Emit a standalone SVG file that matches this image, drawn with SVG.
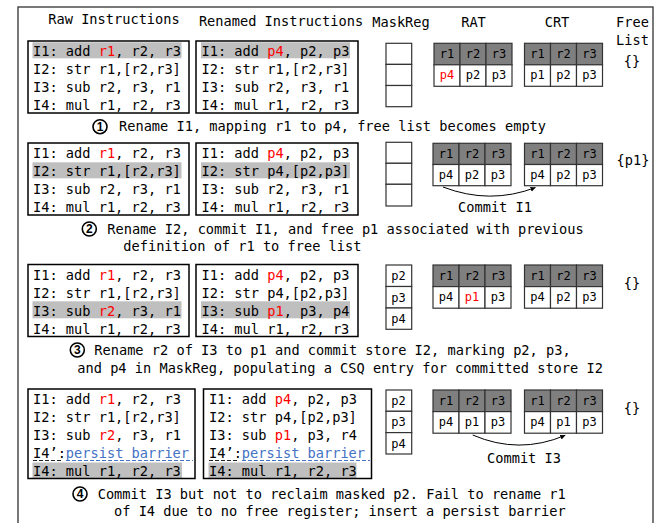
<svg xmlns="http://www.w3.org/2000/svg" width="672" height="523" viewBox="0 0 672 523">
<defs>
<style>
.t{font-family:"DejaVu Sans Mono","Liberation Mono",monospace;font-size:13.65px;fill:#000}
.s{font-family:"DejaVu Sans Mono","Liberation Mono",monospace;font-size:12px;fill:#000;text-anchor:middle}
.c{text-anchor:middle}
.r{fill:#ff0000}
.b{fill:#4472c4}
.hl{fill:#bfbfbf}
.box{fill:none;stroke:#000;stroke-width:1.5}
.cell{fill:#fff;stroke:#333;stroke-width:1.2}
.hdr{fill:#7f7f7f;stroke:#333;stroke-width:1.2}
.num{font-family:"Liberation Sans","DejaVu Sans",sans-serif;font-size:12px;font-weight:bold;text-anchor:middle;fill:#000}
.circ{fill:#fff;stroke:#000;stroke-width:1.6}
.arc{fill:none;stroke:#000;stroke-width:1}
</style>
<marker id="ah" markerWidth="6" markerHeight="6" refX="5" refY="3" orient="auto" markerUnits="userSpaceOnUse">
<path d="M0,0.5 L5,3 L0,5.5 Z" fill="#000"/>
</marker>
</defs>
<rect x="0" y="0" width="672" height="523" fill="#fff"/>
<rect id="frame" x="18" y="7" width="635" height="530" fill="none" stroke="#404040" stroke-width="1.4"/>

<g id="headers">
<text class="t c" x="114" y="23.5">Raw Instructions</text>
<text class="t c" x="281" y="25.7">Renamed Instructions</text>
<text class="t c" x="401" y="26.5">MaskReg</text>
<text class="t c" x="473.5" y="26.5">RAT</text>
<text class="t c" x="557" y="26.5">CRT</text>
<text class="t c" x="632.5" y="26.5">Free</text>
<text class="t c" x="632.5" y="45">List</text>
</g>

<!-- Block 1 -->
<g id="raw1">
<rect class="hl" x="32.5" y="42.3" width="149" height="16"/>
<rect class="box" x="28" y="41" width="161" height="72"/>
<text class="t" x="33" y="56">I1: add <tspan class="r">r1</tspan>, r2, r3</text>
<text class="t" x="33" y="74">I2: str r1,[r2,r3]</text>
<text class="t" x="33" y="92">I3: sub r2, r3, r1</text>
<text class="t" x="33" y="110">I4: mul r1, r2, r3</text>
</g>
<g id="ren1">
<rect class="hl" x="201" y="42.3" width="149" height="16"/>
<rect class="box" x="196" y="41" width="162" height="72"/>
<text class="t" x="201.5" y="56">I1: add <tspan class="r">p4</tspan>, p2, p3</text>
<text class="t" x="201.5" y="74">I2: str r1,[r2,r3]</text>
<text class="t" x="201.5" y="92">I3: sub r2, r3, r1</text>
<text class="t" x="201.5" y="110">I4: mul r1, r2, r3</text>
</g>
<g id="mask1">
<rect class="cell" x="386" y="43.3" width="25.7" height="21.1"/>
<rect class="cell" x="386" y="64.4" width="25.7" height="21.1"/>
<rect class="cell" x="386" y="85.5" width="25.7" height="21.2"/>
</g>
<g id="rat1">
<rect class="hdr" x="434" y="43.3" width="26" height="21.5"/>
<rect class="hdr" x="460" y="43.3" width="26" height="21.5"/>
<rect class="hdr" x="486" y="43.3" width="26" height="21.5"/>
<rect class="cell" x="434" y="64.8" width="26" height="21.5"/>
<rect class="cell" x="460" y="64.8" width="26" height="21.5"/>
<rect class="cell" x="486" y="64.8" width="26" height="21.5"/>
<text class="s" x="447" y="58.3">r1</text><text class="s" x="473" y="58.3">r2</text><text class="s" x="499" y="58.3">r3</text>
<text class="s r" x="447" y="79.3">p4</text><text class="s" x="473" y="79.3">p2</text><text class="s" x="499" y="79.3">p3</text>
</g>
<g id="crt1">
<rect class="hdr" x="524.5" y="43.3" width="26" height="21.5"/>
<rect class="hdr" x="550.5" y="43.3" width="26" height="21.5"/>
<rect class="hdr" x="576.5" y="43.3" width="26" height="21.5"/>
<rect class="cell" x="524.5" y="64.8" width="26" height="21.5"/>
<rect class="cell" x="550.5" y="64.8" width="26" height="21.5"/>
<rect class="cell" x="576.5" y="64.8" width="26" height="21.5"/>
<text class="s" x="537.5" y="58.3">r1</text><text class="s" x="563.5" y="58.3">r2</text><text class="s" x="589.5" y="58.3">r3</text>
<text class="s" x="537.5" y="79.3">p1</text><text class="s" x="563.5" y="79.3">p2</text><text class="s" x="589.5" y="79.3">p3</text>
</g>
<g id="free1"><text class="t c" x="632" y="65.5">{}</text></g>
<g id="cap1">
<circle class="circ" cx="100" cy="126.7" r="7"/>
<text class="num" x="100" y="131">1</text>
<text class="t" x="119" y="131">Rename I1, mapping r1 to p4, free list becomes empty</text>
</g>

<!-- Block 2 -->
<g id="raw2">
<rect class="hl" x="32.5" y="162.3" width="149" height="16"/>
<rect class="box" x="28" y="143" width="161" height="72"/>
<text class="t" x="33" y="158">I1: add <tspan class="r">r1</tspan>, r2, r3</text>
<text class="t" x="33" y="176">I2: str r1,[r2,r3]</text>
<text class="t" x="33" y="194">I3: sub r2, r3, r1</text>
<text class="t" x="33" y="212">I4: mul r1, r2, r3</text>
</g>
<g id="ren2">
<rect class="hl" x="201" y="162.3" width="149" height="16"/>
<rect class="box" x="196" y="143" width="162" height="72"/>
<text class="t" x="201.5" y="158">I1: add <tspan class="r">p4</tspan>, p2, p3</text>
<text class="t" x="201.5" y="176">I2: str p4,[p2,p3]</text>
<text class="t" x="201.5" y="194">I3: sub r2, r3, r1</text>
<text class="t" x="201.5" y="212">I4: mul r1, r2, r3</text>
</g>
<g id="mask2">
<rect class="cell" x="386" y="142.3" width="25.7" height="21"/>
<rect class="cell" x="386" y="163.3" width="25.7" height="21"/>
<rect class="cell" x="386" y="184.3" width="25.7" height="21.7"/>
</g>
<g id="rat2">
<rect class="hdr" x="433" y="143.3" width="26" height="21.2"/>
<rect class="hdr" x="459" y="143.3" width="26" height="21.2"/>
<rect class="hdr" x="485" y="143.3" width="26" height="21.2"/>
<rect class="cell" x="433" y="164.5" width="26" height="21.2"/>
<rect class="cell" x="459" y="164.5" width="26" height="21.2"/>
<rect class="cell" x="485" y="164.5" width="26" height="21.2"/>
<text class="s" x="446" y="158.3">r1</text><text class="s" x="472" y="158.3">r2</text><text class="s" x="498" y="158.3">r3</text>
<text class="s" x="446" y="179.3">p4</text><text class="s" x="472" y="179.3">p2</text><text class="s" x="498" y="179.3">p3</text>
</g>
<g id="crt2">
<rect class="hdr" x="524.5" y="143.3" width="26" height="21.2"/>
<rect class="hdr" x="550.5" y="143.3" width="26" height="21.2"/>
<rect class="hdr" x="576.5" y="143.3" width="26" height="21.2"/>
<rect class="cell" x="524.5" y="164.5" width="26" height="21.2"/>
<rect class="cell" x="550.5" y="164.5" width="26" height="21.2"/>
<rect class="cell" x="576.5" y="164.5" width="26" height="21.2"/>
<text class="s" x="537.5" y="158.3">r1</text><text class="s" x="563.5" y="158.3">r2</text><text class="s" x="589.5" y="158.3">r3</text>
<text class="s" x="537.5" y="179.3">p4</text><text class="s" x="563.5" y="179.3">p2</text><text class="s" x="589.5" y="179.3">p3</text>
</g>
<g id="free2"><text class="t c" x="633" y="164.5">{p1}</text></g>
<g id="commit1label"><text class="t c" x="495" y="212.3">Commit I1</text></g>
<g id="cap2">
<circle class="circ" cx="89.3" cy="229" r="7"/>
<text class="num" x="89.3" y="233.3">2</text>
<text class="t" x="107.3" y="233.5">Rename I2, commit I1, and free p1 associated with previous</text>
<text class="t" x="123.3" y="251">definition of r1 to free list</text>
</g>

<!-- Block 3 -->
<g id="raw3">
<rect class="hl" x="32.5" y="301.3" width="149" height="17"/>
<rect class="box" x="28" y="264.5" width="161" height="72"/>
<text class="t" x="33" y="279.5">I1: add <tspan class="r">r1</tspan>, r2, r3</text>
<text class="t" x="33" y="297.5">I2: str r1,[r2,r3]</text>
<text class="t" x="33" y="315.5">I3: sub <tspan class="r">r2</tspan>, r3, r1</text>
<text class="t" x="33" y="333.5">I4: mul r1, r2, r3</text>
</g>
<g id="ren3">
<rect class="hl" x="201" y="301.3" width="149" height="17"/>
<rect class="box" x="196" y="264.5" width="162" height="72"/>
<text class="t" x="201.5" y="279.5">I1: add <tspan class="r">p4</tspan>, p2, p3</text>
<text class="t" x="201.5" y="297.5">I2: str p4,[p2,p3]</text>
<text class="t" x="201.5" y="315.5">I3: sub <tspan class="r">p1</tspan>, p3, p4</text>
<text class="t" x="201.5" y="333.5">I4: mul r1, r2, r3</text>
</g>
<g id="mask3">
<rect class="cell" x="386" y="265" width="25.7" height="21.5"/>
<rect class="cell" x="386" y="286.5" width="25.7" height="21.5"/>
<rect class="cell" x="386" y="308" width="25.7" height="21.3"/>
<text class="s" x="398.5" y="280">p2</text>
<text class="s" x="398.5" y="301.5">p3</text>
<text class="s" x="398.5" y="323">p4</text>
</g>
<g id="rat3">
<rect class="hdr" x="433" y="265" width="26" height="21.6"/>
<rect class="hdr" x="459" y="265" width="26" height="21.6"/>
<rect class="hdr" x="485" y="265" width="26" height="21.6"/>
<rect class="cell" x="433" y="286.6" width="26" height="21.6"/>
<rect class="cell" x="459" y="286.6" width="26" height="21.6"/>
<rect class="cell" x="485" y="286.6" width="26" height="21.6"/>
<text class="s" x="446" y="280">r1</text><text class="s" x="472" y="280">r2</text><text class="s" x="498" y="280">r3</text>
<text class="s" x="446" y="301">p4</text><text class="s r" x="472" y="301">p1</text><text class="s" x="498" y="301">p3</text>
</g>
<g id="crt3">
<rect class="hdr" x="524.5" y="265" width="26" height="21.6"/>
<rect class="hdr" x="550.5" y="265" width="26" height="21.6"/>
<rect class="hdr" x="576.5" y="265" width="26" height="21.6"/>
<rect class="cell" x="524.5" y="286.6" width="26" height="21.6"/>
<rect class="cell" x="550.5" y="286.6" width="26" height="21.6"/>
<rect class="cell" x="576.5" y="286.6" width="26" height="21.6"/>
<text class="s" x="537.5" y="280">r1</text><text class="s" x="563.5" y="280">r2</text><text class="s" x="589.5" y="280">r3</text>
<text class="s" x="537.5" y="301">p4</text><text class="s" x="563.5" y="301">p2</text><text class="s" x="589.5" y="301">p3</text>
</g>
<g id="free3"><text class="t c" x="632" y="288">{}</text></g>
<g id="cap3">
<circle class="circ" cx="77.3" cy="350" r="7"/>
<text class="num" x="77.3" y="354.3">3</text>
<text class="t" x="94.3" y="354.7">Rename r2 of I3 to p1 and commit store I2, marking p2, p3,</text>
<text class="t" x="77.3" y="372.7">and p4 in MaskReg, populating a CSQ entry for committed store I2</text>
</g>

<!-- Block 4 -->
<g id="raw4">
<rect class="hl" x="32.5" y="462.5" width="149.5" height="15.5"/>
<rect class="box" x="28" y="389" width="167" height="89.5"/>
<text class="t" x="33" y="404">I1: add <tspan class="r">r1</tspan>, r2, r3</text>
<text class="t" x="33" y="422">I2: str r1,[r2,r3]</text>
<text class="t" x="33" y="440">I3: sub <tspan class="r">r2</tspan>, r3, r1</text>
<text class="t" x="33" y="458">I4’:<tspan class="b">persist barrier</tspan></text>
<line x1="33" y1="460.5" x2="62" y2="460.5" stroke="#222" stroke-width="1" stroke-dasharray="4 2"/>
<line x1="66" y1="460.5" x2="193" y2="460.5" stroke="#4472c4" stroke-width="1" stroke-dasharray="4 2"/>
<text class="t" x="33" y="476">I4: mul r1, r2, r3</text>
</g>
<g id="ren4">
<rect class="hl" x="208.5" y="462.5" width="148" height="15.5"/>
<rect class="box" x="203.5" y="389" width="168" height="89.5"/>
<text class="t" x="209" y="404">I1: add <tspan class="r">p4</tspan>, p2, p3</text>
<text class="t" x="209" y="422">I2: str p4,[p2,p3]</text>
<text class="t" x="209" y="440">I3: sub <tspan class="r">p1</tspan>, p3, r4</text>
<text class="t" x="209" y="458">I4’:<tspan class="b">persist barrier</tspan></text>
<line x1="209" y1="460.5" x2="238" y2="460.5" stroke="#222" stroke-width="1" stroke-dasharray="4 2"/>
<line x1="242" y1="460.5" x2="370" y2="460.5" stroke="#4472c4" stroke-width="1" stroke-dasharray="4 2"/>
<text class="t" x="209" y="476">I4: mul r1, r2, r3</text>
</g>
<g id="mask4">
<rect class="cell" x="386" y="390" width="25.7" height="21.3"/>
<rect class="cell" x="386" y="411.3" width="25.7" height="21.3"/>
<rect class="cell" x="386" y="432.6" width="25.7" height="21.4"/>
<text class="s" x="398.5" y="405">p2</text>
<text class="s" x="398.5" y="426.3">p3</text>
<text class="s" x="398.5" y="447.7">p4</text>
</g>
<g id="rat4">
<rect class="hdr" x="433" y="390" width="26" height="21.6"/>
<rect class="hdr" x="459" y="390" width="26" height="21.6"/>
<rect class="hdr" x="485" y="390" width="26" height="21.6"/>
<rect class="cell" x="433" y="411.6" width="26" height="21.6"/>
<rect class="cell" x="459" y="411.6" width="26" height="21.6"/>
<rect class="cell" x="485" y="411.6" width="26" height="21.6"/>
<text class="s" x="446" y="405">r1</text><text class="s" x="472" y="405">r2</text><text class="s" x="498" y="405">r3</text>
<text class="s" x="446" y="426">p4</text><text class="s" x="472" y="426">p1</text><text class="s" x="498" y="426">p3</text>
</g>
<g id="crt4">
<rect class="hdr" x="524.5" y="390" width="26" height="21.6"/>
<rect class="hdr" x="550.5" y="390" width="26" height="21.6"/>
<rect class="hdr" x="576.5" y="390" width="26" height="21.6"/>
<rect class="cell" x="524.5" y="411.6" width="26" height="21.6"/>
<rect class="cell" x="550.5" y="411.6" width="26" height="21.6"/>
<rect class="cell" x="576.5" y="411.6" width="26" height="21.6"/>
<text class="s" x="537.5" y="405">r1</text><text class="s" x="563.5" y="405">r2</text><text class="s" x="589.5" y="405">r3</text>
<text class="s" x="537.5" y="426">p4</text><text class="s" x="563.5" y="426">p1</text><text class="s" x="589.5" y="426">p3</text>
</g>
<g id="free4"><text class="t c" x="632" y="413">{}</text></g>
<g id="commit3label"><text class="t c" x="524" y="462.7">Commit I3</text></g>
<g id="cap4">
<circle class="circ" cx="80" cy="494" r="7"/>
<text class="num" x="80" y="498.3">4</text>
<text class="t" x="97.7" y="498.5">Commit I3 but not to reclaim masked p2. Fail to rename r1</text>
<text class="t" x="114" y="516">of I4 due to no free register; insert a persist barrier</text>
</g>

<g id="connectors">
<path class="arc" d="M443,187 Q490,205 535.5,187.5" marker-end="url(#ah)"/>
<path class="arc" d="M472.7,435 Q519,455 565.3,435.3" marker-end="url(#ah)"/>
</g>
</svg>
